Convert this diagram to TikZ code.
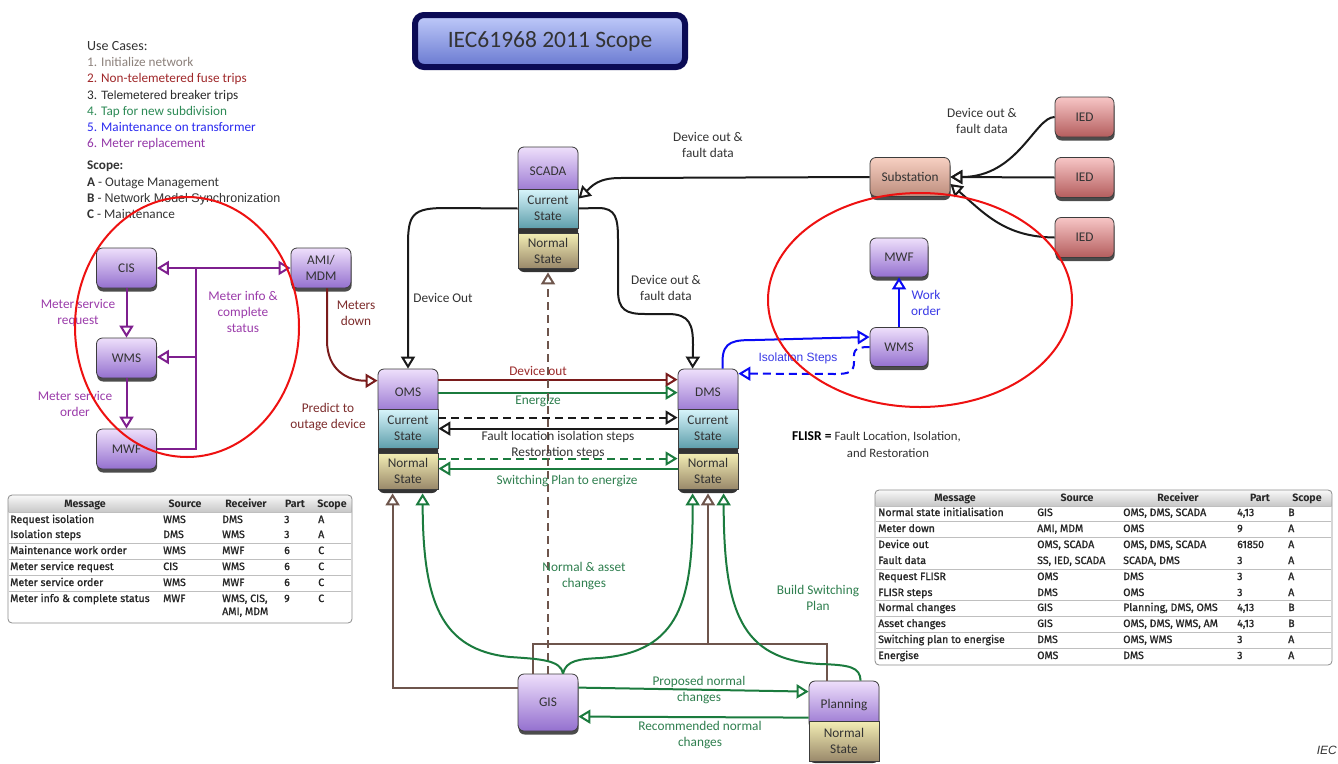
\documentclass[tikz,border=0pt]{standalone}
\usepackage{fontspec}
\setmainfont{Carlito}
\newfontfamily\arialf{Liberation Sans}
\newfontfamily\tabb{Fira Sans}
\newfontfamily\tabr{Fira Sans}[FakeBold=1.2]
\usetikzlibrary{arrows.meta,shadows,calc}
\definecolor{pTop}{HTML}{EEDFFB}
\definecolor{pBot}{HTML}{9470CF}
\definecolor{cTop}{HTML}{D8F5FB}
\definecolor{cBot}{HTML}{5F9FAC}
\definecolor{nTop}{HTML}{F3EEB4}
\definecolor{nBot}{HTML}{9A896B}
\definecolor{sTop}{HTML}{F7D0C2}
\definecolor{sBot}{HTML}{BC8C7C}
\definecolor{iTop}{HTML}{F7C6C6}
\definecolor{iBot}{HTML}{B45D5D}
\definecolor{tTop}{HTML}{C0CBFA}
\definecolor{tBot}{HTML}{6878D0}
\definecolor{navy}{HTML}{0B0B55}
\definecolor{bdr}{HTML}{3C3C3C}
\definecolor{bgd}{HTML}{333333}
\definecolor{txt}{HTML}{333333}
\definecolor{cpur}{HTML}{7E1F8E}
\definecolor{cred}{HTML}{7A1C1C}
\definecolor{cgrn}{HTML}{1B7B3E}
\definecolor{cbrn}{HTML}{6E554C}
\definecolor{cblu}{HTML}{0A0AF5}
\definecolor{cblk}{HTML}{1A1A1A}
\definecolor{tpur}{HTML}{9B3CAA}
\definecolor{tred}{HTML}{7D2C2C}
\definecolor{tred2}{HTML}{9B2A2A}
\definecolor{tgrn}{HTML}{2F7F4F}
\definecolor{tblu}{HTML}{3A3AE6}
\definecolor{lgray}{HTML}{8C817B}
\definecolor{lred}{HTML}{A0282A}
\definecolor{lblk}{HTML}{2A2A2A}
\definecolor{lgrn}{HTML}{2E8B57}
\definecolor{lblu}{HTML}{2A2AF0}
\definecolor{lpur}{HTML}{9437A8}
\definecolor{ellred}{HTML}{EE1111}
\newcommand\lrow[7]{%
  \node[tc] (#1a) at (10,#2) {#3};
  \node[tc] (#1b) at (163,#2) {#4};
  \node[tc] (#1c) at (222,#2) {#5};
  \node[tc] (#1d) at (284,#2) {#6};
  \node[tc] (#1e) at (318,#2) {#7};}
\newcommand\rrow[7]{%
  \node[tc] (#1a) at (878,#2) {#3};
  \node[tc] (#1b) at (1037,#2) {#4};
  \node[tc] (#1c) at (1123,#2) {#5};
  \node[tc] (#1d) at (1237,#2) {#6};
  \node[tc] (#1e) at (1288,#2) {#7};}
\begin{document}
\begin{tikzpicture}[x=1pt,y=-1pt,
  base/.style={inner sep=0pt, font=\fontsize{13.3}{16}\selectfont, text=txt, align=center},
  pnode/.style={base, rounded corners=6pt, draw=bdr, line width=0.8pt, top color=pTop, bottom color=pBot, minimum width=60pt, minimum height=40pt},
  pshadow/.style={drop shadow={shadow xshift=0.6pt, shadow yshift=-3.5pt, fill=black!70, opacity=1}},
  cnode/.style={base, draw=bdr, line width=0.8pt, top color=cTop, bottom color=cBot, minimum width=60pt, minimum height=39pt},
  nnode/.style={base, draw=bdr, line width=0.8pt, top color=nTop, bottom color=nBot, minimum width=60pt, minimum height=36pt},
  stackbg/.style={fill=bgd, rounded corners=6pt},
  con/.style={line width=2pt},
  oa/.style={-{Triangle[open, length=12pt, width=14pt, fill=white]}},
  dsh/.style={dash pattern=on 8pt off 5pt},
  lab/.style={base, font=\fontsize{13.3}{16}\selectfont},
  leg/.style={inner sep=0pt, anchor=base west, font=\fontsize{13.2}{15}\selectfont},
  tc/.style={inner sep=0pt, anchor=west, text height=8pt, text depth=2pt, font=\tabr\fontsize{10.6}{11}\selectfont, text=black!85},
  th/.style={inner sep=0pt, text height=8pt, text depth=2pt, font=\tabb\bfseries\fontsize{10.6}{11}\selectfont, text=black!85},
  tline/.style={draw=black!25, line width=0.6pt},
  ell/.style={draw=ellred, line width=2pt}
]
\useasboundingbox (0,0) rectangle (1338,763);
\fill[white] (0,0) rectangle (1338,763);

% Title
\node[base, rounded corners=9pt, draw=navy, line width=6pt, top color=tTop, bottom color=tBot,
  minimum width=270pt, minimum height=52pt, font=\fontsize{23.5}{26}\selectfont] (title) at (550,41) {IEC61968 2011 Scope};

% Legend
\node[leg, text=txt, font=\fontsize{14}{15}\selectfont] (uc) at (87,50) {Use Cases:};
\node[leg, text=lgray] (uc1) at (87,66) {1. Initialize network};
\node[leg, text=lred] (uc2) at (87,82) {2. Non-telemetered fuse trips};
\node[leg, text=lblk] (uc3) at (87,99) {3. {\arialf\fontsize{12}{13}\selectfont Telemetered} breaker trips};
\node[leg, text=lgrn] (uc4) at (87,115) {4. Tap for new subdivision};
\node[leg, text=lblu] (uc5) at (87,131) {5. Maintenance on transformer};
\node[leg, text=lpur] (uc6) at (87,147) {6. Meter replacement};
\node[leg, text=txt] (sc) at (87,169) {\textbf{Scope:}};
\node[leg, text=txt] (sca) at (87,186) {\textbf{A} - Outage Management};
\node[leg, text=txt] (scb) at (87,202) {\textbf{B} - {\arialf\fontsize{12.5}{13}\selectfont Network Model Synchronization}};
\node[leg, text=txt] (scc) at (87,218) {\textbf{C} - Maintenance};

% Left cluster nodes
\node[pnode, pshadow] (cis) at (126.5,268) {CIS};
\node[pnode, pshadow] (wmsl) at (126.5,358) {WMS};
\node[pnode, pshadow] (mwfl) at (126.5,449) {MWF};
\node[pnode, pshadow] (ami) at (321,268) {AMI/\\MDM};

% SCADA stack
\fill[stackbg] (518,147) rectangle (578,272);
\node[pnode, minimum height=48pt] (scada) at (548,171) {SCADA};
\node[cnode] (scadac) at (548,208.5) {Current\\State};
\node[nnode, minimum height=35pt] (scadan) at (548,250.5) {Normal\\State};

% OMS stack
\fill[stackbg] (378,369) rectangle (438,493);
\node[pnode, minimum height=46pt] (oms) at (408,392) {OMS};
\node[cnode] (omsc) at (408,428.5) {Current\\State};
\node[nnode] (omsn) at (408,471) {Normal\\State};

% DMS stack
\fill[stackbg] (678,369) rectangle (738,493);
\node[pnode, minimum height=46pt] (dms) at (708,392) {DMS};
\node[cnode] (dmsc) at (708,428.5) {Current\\State};
\node[nnode] (dmsn) at (708,471) {Normal\\State};

% Right nodes
\node[pnode, pshadow, minimum width=80pt, minimum height=39pt, top color=sTop, bottom color=sBot] (sub) at (910,177) {Substation};
\node[pnode, pshadow, minimum width=59pt, top color=iTop, bottom color=iBot] (ied1) at (1084.5,117) {IED};
\node[pnode, pshadow, minimum width=59pt, top color=iTop, bottom color=iBot] (ied2) at (1084.5,177.5) {IED};
\node[pnode, pshadow, minimum width=59pt, top color=iTop, bottom color=iBot] (ied3) at (1084.5,237.5) {IED};
\node[pnode, pshadow, minimum width=58pt, minimum height=39pt] (mwfr) at (899,257.5) {MWF};
\node[pnode, pshadow, minimum width=58pt, minimum height=39pt] (wmsr) at (899,347) {WMS};

% GIS and Planning
\node[pnode, pshadow, minimum height=57pt] (gis) at (548,702.5) {GIS};
\fill[stackbg] (809,681) rectangle (879,763);
\node[pnode, minimum width=70pt, minimum height=48pt] (plan) at (844,705) {Planning};
\node[nnode, minimum width=70pt, minimum height=40pt] (plann) at (844,741) {Normal\\State};

% Purple connectors
\coordinate (j1) at (196,268);
\coordinate (j2) at (196,357);
\coordinate (j3) at (196,449);
\draw[con,cpur,oa] (cis) -- (wmsl);
\draw[con,cpur,oa] (wmsl) -- (mwfl);
\draw[con,cpur] (mwfl.east |- j3) -- (j3) -- (j1);
\draw[con,cpur,oa] (j1) -- (cis.east |- j1);
\draw[con,cpur,oa] (j1) -- (ami.west |- j1);
\draw[con,cpur,oa] (j2) -- (wmsl.east |- j2);
\node[lab, text=tpur] (l_msr) at (78,313) {Meter service\\request};
\node[lab, text=tpur] (l_mso) at (75,404) {Meter service\\order};
\node[lab, text=tpur] (l_mic) at (243,312) {Meter info \&\\complete\\status};

% Meters down
\draw[con,cred,oa] ($(ami.south)+(6,0)$) -- ++(0,52) .. controls +(0,30) and (348,381) .. ($(oms.north west)+(0,12)$);
\node[lab, text=tred] (l_md) at (356,313) {Meters\\down};
\node[lab, text=tred] (l_pod) at (328,417) {Predict to\\outage device};

% SCADA connections
\draw[con,cblk,oa] (scadac.west) -- (445,208) .. controls (412,208) and (408,215) .. (408,245) -- (oms.north);
\draw[con,cblk,oa] (scadac.east) -- (598,208) .. controls (616,208) and (618,218) .. (618,240) -- (618,290) .. controls (618,310) and (626,314) .. (645,314) -- (668,314) .. controls (690,314) and (693,325) .. (693,345) -- ($(dms.north west)+(15,0)$);
\draw[con,cblk,oa] (sub.west) -- (620,178) .. controls (598,178) and (592,186) .. ($(scadac.north east)+(0,10)$);
\node[lab, text=txt] (l_do) at (443,298) {Device Out};
\node[lab, text=txt] (l_dofd1) at (666,288) {Device out \&\\fault data};
\node[lab, text=txt] (l_dofd2) at (708,145) {Device out \&\\fault data};

% IEDs
\draw[con,cblk,oa] (ied1.west) .. controls (1035,117) and (1018,177) .. (sub.east);
\draw[con,cblk,oa] (ied2.west) -- (sub.east);
\draw[con,cblk,oa] (ied3.west) .. controls (1005,237) and (985,214) .. ($(sub.east)+(0,7)$);
\node[lab, text=txt] (l_dofd3) at (982,121) {Device out \&\\fault data};

% Blue
\draw[con,cblu,oa] ($(dms.north west)+(45,0)$) -- ++(0,-8) .. controls +(0,-20) and (735,340) .. (755,340) -- ($(wmsr.west)+(0,-10)$);
\draw[con,cblu,oa,dsh] (wmsr.west) .. controls (852,347) and (854,352) .. (854,362) .. controls (854,372) and (849,374) .. (835,374) -- ($(dms.north east)+(0,5)$);
\draw[con,cblu,oa] (wmsr) -- (mwfr);
\node[lab, text=tblu, font=\arialf\fontsize{12}{14}\selectfont] (l_is) at (798,358) {Isolation Steps};
\node[lab, text=tblu] (l_wo) at (926,303) {Work\\order};

% OMS-DMS
\draw[con,cred,oa] ($(oms.north east)+(0,11)$) -- ($(dms.north west)+(0,11)$);
\draw[con,cgrn,oa] ($(oms.north east)+(0,24)$) -- ($(dms.north west)+(0,24)$);
\draw[con,cblk,oa,dsh] ($(oms.north east)+(0,49)$) -- ($(dms.north west)+(0,49)$);
\draw[con,cblk,oa] ($(dms.north west)+(0,60)$) -- ($(oms.north east)+(0,60)$);
\draw[con,cgrn,oa,dsh] ($(oms.north east)+(0,90)$) -- ($(dms.north west)+(0,90)$);
\draw[con,cgrn,oa] ($(dms.north west)+(0,100)$) -- ($(oms.north east)+(0,100)$);

% Bottom connectors
\coordinate (bj) at (708,644);
\draw[con,cbrn] ($(gis.north west)+(15,0)$) |- (bj) -| ($(plan.north west)+(18,0)$);
\draw[con,cbrn,oa] (bj) -- ($(dmsn.south)+(0,4)$);
\draw[con,cbrn,oa] ($(gis.north west)+(0,14)$) -| ($(omsn.south west)+(15,4)$);
\draw[con,cbrn,oa,dsh] (gis.north) -- ($(scadan.south)+(0,4)$);
\draw[con,cgrn,oa] ($(gis.north)+(15,0)$) .. controls (561,660) and (540,659) .. (510,657) .. controls (440,650) and (423,600) .. ($(omsn.south west)+(45,4)$);
\draw[con,cgrn,oa] ($(gis.north)+(15,0)$) .. controls (566,660) and (580,659) .. (600,658) .. controls (680,652) and (693,600) .. ($(dmsn.south west)+(15,4)$);
\draw[con,cgrn,oa] ($(plan.north west)+(52,0)$) .. controls (860,667) and (850,665) .. (820,664) .. controls (740,660) and (724,610) .. ($(dmsn.south west)+(46,4)$);
\draw[con,cgrn,oa] ($(gis.north east)+(0,14)$) -- ($(plan.north west)+(0,11)$);
\draw[con,cgrn,oa] ($(plan.north west)+(0,37)$) -- ($(gis.north east)+(0,43)$);

% Center labels
\node[lab, text=tred2] (l_dout) at (538,371) {Device out};
\node[lab, text=tgrn] (l_en) at (538,401) {Energize};
\node[lab, text=txt] (l_fl) at (558,437) {Fault location isolation steps};
\node[lab, text=txt] (l_rs) at (558,453) {Restoration steps};
\node[lab, text=tgrn] (l_sp) at (567,481) {Switching Plan to energize};
\node[lab, text=tgrn] (l_nac) at (584,576) {Normal \& asset\\changes};
\node[lab, text=tgrn] (l_bsp) at (818,598) {Build Switching\\Plan};
\node[lab, text=tgrn] (l_pnc) at (699,690) {Proposed normal\\changes};
\node[lab, text=tgrn] (l_rnc) at (700,735) {Recommended normal\\changes};

% FLISR
\node[inner sep=0pt, anchor=west, text=black, font=\fontsize{13.5}{15}\selectfont] (flisr) at (792,437) {\textbf{FLISR =} {\fontsize{12.8}{15}\selectfont\color{txt}Fault Location, Isolation,}};
\node[inner sep=0pt, text=txt, font=\fontsize{12.8}{15}\selectfont] (flisr2) at (888,453) {and Restoration};

% IEC
\node[inner sep=0pt, anchor=east, text=txt, font=\arialf\itshape\fontsize{12}{13}\selectfont] (iec) at (1337,750) {IEC};

% Left table
\fill[top color=black!3, bottom color=black!22] (8.5,495.5) rectangle (351.5,512);
\draw[black!45, line width=0.8pt, rounded corners=4pt] (8,495) rectangle (352,623);
\draw[tline] (9,512) -- (351,512);
\draw[tline] (9,543) -- (351,543);
\draw[tline] (9,559) -- (351,559);
\draw[tline] (9,575) -- (351,575);
\draw[tline] (9,591) -- (351,591);
\node[th] (lth1) at (85,504) {Message};
\node[th] (lth2) at (185,504) {Source};
\node[th] (lth3) at (246,504) {Receiver};
\node[th] (lth4) at (295,504) {Part};
\node[th] (lth5) at (332,504) {Scope};
\lrow{lr1}{520}{Request isolation}{WMS}{DMS}{3}{A}
\lrow{lr2}{535}{Isolation steps}{DMS}{WMS}{3}{A}
\lrow{lr3}{551}{Maintenance work order}{WMS}{MWF}{6}{C}
\lrow{lr4}{567}{Meter service request}{CIS}{WMS}{6}{C}
\lrow{lr5}{583}{Meter service order}{WMS}{MWF}{6}{C}
\lrow{lr6}{599}{Meter info \& complete status}{MWF}{WMS, CIS,}{9}{C}
\node[tc] (lr6c2) at (222,612) {AMI, MDM};

% Right table
\fill[top color=black!3, bottom color=black!22] (875.5,490.5) rectangle (1331.5,506);
\draw[black!45, line width=0.8pt, rounded corners=4pt] (875,490) rectangle (1332,665);
\draw[tline] (876,506) -- (1331,506);
\draw[tline] (876,521) -- (1331,521);
\draw[tline] (876,537) -- (1331,537);
\draw[tline] (876,569) -- (1331,569);
\draw[tline] (876,600.5) -- (1331,600.5);
\draw[tline] (876,616) -- (1331,616);
\draw[tline] (876,632) -- (1331,632);
\draw[tline] (876,648) -- (1331,648);
\node[th] (rth1) at (955,498) {Message};
\node[th] (rth2) at (1077,498) {Source};
\node[th] (rth3) at (1178,498) {Receiver};
\node[th] (rth4) at (1260,498) {Part};
\node[th] (rth5) at (1307,498) {Scope};
\rrow{rr1}{513}{Normal state initialisation}{GIS}{OMS, DMS, SCADA}{4,13}{B}
\rrow{rr2}{529}{Meter down}{AMI, MDM}{OMS}{9}{A}
\rrow{rr3}{545}{Device out}{OMS, SCADA}{OMS, DMS, SCADA}{61850}{A}
\rrow{rr4}{561}{Fault data}{SS, IED, SCADA}{SCADA, DMS}{3}{A}
\rrow{rr5}{577}{Request FLISR}{OMS}{DMS}{3}{A}
\rrow{rr6}{593}{FLISR steps}{DMS}{OMS}{3}{A}
\rrow{rr7}{608}{Normal changes}{GIS}{Planning, DMS, OMS}{4,13}{B}
\rrow{rr8}{624}{Asset changes}{GIS}{OMS, DMS, WMS, AM}{4,13}{B}
\rrow{rr9}{640}{Switching plan to energise}{DMS}{OMS, WMS}{3}{A}
\rrow{rr10}{656}{Energise}{OMS}{DMS}{3}{A}

% Red ellipses
\draw[ell] (187,327) ellipse [x radius=112, y radius=130];
\draw[ell] (920,300) ellipse [x radius=152, y radius=107];
\end{tikzpicture}
\end{document}
